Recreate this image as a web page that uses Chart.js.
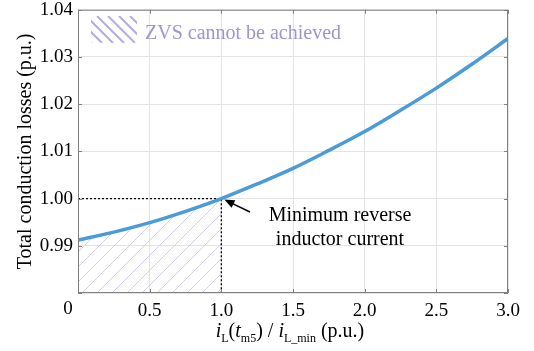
<!DOCTYPE html>
<html lang="en">
<head>
<meta charset="UTF-8">
<title>Conduction losses</title>
<script src="https://cdn.jsdelivr.net/npm/chart.js"></script>
<style>
  html, body { margin: 0; padding: 0; background: #fff; }
  #wrap { width: 534px; height: 351px; }
</style>
</head>
<body>
<div id="wrap"><canvas id="lossChart" width="534" height="351"></canvas></div>
<script>
// values
const xVals = [0, 0.25, 0.5, 0.75, 1.0, 1.25, 1.5, 1.75, 2.0, 2.25, 2.5, 2.75, 3.0];
const lossVals = [0.9912, 0.9929, 0.9949, 0.9973, 1.0000, 1.0031, 1.0064, 1.0102, 1.0142, 1.0187, 1.0234, 1.0285, 1.0339];
const minPoint = { x: 1.0, y: 1.00 };
const xTicks = [0, 0.5, 1.0, 1.5, 2.0, 2.5, 3.0];
const yTicks = [0.98, 0.99, 1.00, 1.01, 1.02, 1.03, 1.04];
const legendText = 'ZVS cannot be achieved';
const noteLines = ['Minimum reverse', 'inductor current'];

const SERIF = '"Liberation Serif", "Times New Roman", serif';

const curve = xVals.map((x, i) => ({ x: x, y: lossVals[i] }));
const zvsArea = curve.filter(p => p.x <= minPoint.x);
const guide = [{ x: xTicks[0], y: minPoint.y }, minPoint, { x: minPoint.x, y: yTicks[0] }];

// diagonal hatch tile "/", drawn pixel by pixel so it stays crisp
function hatchPattern(ctx) {
    const s = 15;
    const c = document.createElement('canvas');
    c.width = s; c.height = s;
    const g = c.getContext('2d');
    g.fillStyle = '#d2cfee';
    for (let i = 0; i < s; i++) g.fillRect(i, s - 1 - i, 1, 1);
    return ctx.createPattern(c, 'repeat');
}

const extras = {
    id: 'extras',
    afterDraw(chart) {
        const ctx = chart.ctx;
        const a = chart.chartArea;
        const xs = chart.scales.x, ys = chart.scales.y;
        ctx.save();

        // box + inward tick marks
        ctx.strokeStyle = '#7f7f7f';
        ctx.lineWidth = 1;
        ctx.strokeRect(a.left + 0.5, a.top + 0.5, a.right - a.left - 1, a.bottom - a.top - 1);
        ctx.beginPath();
        xTicks.forEach(v => {
            const px = Math.round(xs.getPixelForValue(v)) + 0.5;
            ctx.moveTo(px, a.bottom); ctx.lineTo(px, a.bottom - 4);
            ctx.moveTo(px, a.top); ctx.lineTo(px, a.top + 4);
        });
        yTicks.forEach(v => {
            const py = Math.round(ys.getPixelForValue(v)) + 0.5;
            ctx.moveTo(a.left, py); ctx.lineTo(a.left + 4, py);
            ctx.moveTo(a.right, py); ctx.lineTo(a.right - 4, py);
        });
        ctx.stroke();

        // "0" tick label sits left of the corner
        ctx.fillStyle = '#000';
        ctx.font = '19px ' + SERIF;
        ctx.textAlign = 'center';
        ctx.textBaseline = 'alphabetic';
        ctx.fillText('0', a.left - 10, 314);

        // legend
        const lx = 91, ly = 16, lw = 46, lh = 27;
        ctx.save();
        ctx.beginPath();
        ctx.rect(lx, ly, lw, lh);
        ctx.clip();
        ctx.strokeStyle = '#b4acdf';
        ctx.lineWidth = 2;
        ctx.beginPath();
        for (let k = -lh; k < lw + 4; k += 11) {
            ctx.moveTo(lx + k, ly);
            ctx.lineTo(lx + k + lh, ly + lh);
        }
        ctx.stroke();
        ctx.restore();
        ctx.fillStyle = '#9d95cf';
        ctx.font = '20px ' + SERIF;
        ctx.textAlign = 'left';
        ctx.fillText(legendText, 145, 39);

        // arrow to the minimum point
        const tipX = xs.getPixelForValue(minPoint.x) + 3;
        const tipY = ys.getPixelForValue(minPoint.y) + 1;
        const tailX = 250, tailY = 212;
        const ang = Math.atan2(tipY - tailY, tipX - tailX);
        ctx.strokeStyle = '#000';
        ctx.fillStyle = '#000';
        ctx.lineWidth = 1.5;
        ctx.beginPath();
        ctx.moveTo(tailX, tailY);
        ctx.lineTo(tipX - 8 * Math.cos(ang), tipY - 8 * Math.sin(ang));
        ctx.stroke();
        ctx.beginPath();
        ctx.moveTo(tipX, tipY);
        ctx.lineTo(tipX - 11 * Math.cos(ang - 0.4), tipY - 11 * Math.sin(ang - 0.4));
        ctx.lineTo(tipX - 11 * Math.cos(ang + 0.4), tipY - 11 * Math.sin(ang + 0.4));
        ctx.closePath();
        ctx.fill();

        ctx.font = '20px ' + SERIF;
        ctx.textAlign = 'center';
        ctx.fillText(noteLines[0], 340, 221);
        ctx.fillText(noteLines[1], 340, 245);

        // y axis title
        ctx.save();
        ctx.translate(26, (a.top + a.bottom) / 2);
        ctx.rotate(-Math.PI / 2);
        ctx.textAlign = 'center';
        ctx.textBaseline = 'middle';
        ctx.font = '20px ' + SERIF;
        ctx.fillText('Total conduction losses (p.u.)', 0, 0);
        ctx.restore();

        // x axis title with subscripts
        const parts = [
            ['i', 'italic 20px', 0], ['L', '12px', 5], ['(', '20px', 0], ['t', 'italic 20px', 0],
            ['m5', '12px', 5], [') / ', '20px', 0], ['i', 'italic 20px', 0], ['L_min', '12px', 5],
            [' (p.u.)', '20px', 0]
        ];
        let total = 0;
        parts.forEach(p => { ctx.font = p[1] + ' ' + SERIF; total += ctx.measureText(p[0]).width; });
        let cx = 290 - total / 2;
        ctx.textAlign = 'left';
        ctx.textBaseline = 'alphabetic';
        parts.forEach(p => {
            ctx.font = p[1] + ' ' + SERIF;
            ctx.fillText(p[0], cx, 337 + p[2]);
            cx += ctx.measureText(p[0]).width;
        });

        ctx.restore();
    }
};

const ctx = document.getElementById('lossChart').getContext('2d');
new Chart(ctx, {
    type: 'line',
    data: {
        datasets: [
            {
                data: curve,
                borderColor: '#4b9bd8',
                borderWidth: 3.5,
                pointRadius: 0,
                cubicInterpolationMode: 'monotone',
                fill: false,
                order: 0
            },
            {
                data: guide,
                borderColor: '#000',
                borderWidth: 1.3,
                borderDash: [2, 2],
                pointRadius: 0,
                tension: 0,
                fill: false,
                order: 1
            },
            {
                data: zvsArea,
                borderWidth: 0,
                borderColor: 'rgba(0,0,0,0)',
                backgroundColor: hatchPattern(ctx),
                pointRadius: 0,
                cubicInterpolationMode: 'monotone',
                fill: 'start',
                order: 2
            }
        ]
    },
    options: {
        responsive: false,
        animation: false,
        layout: { padding: { top: 5, right: 26, left: 0, bottom: 0 } },
        plugins: { legend: { display: false }, tooltip: { enabled: false } },
        scales: {
            x: {
                type: 'linear',
                min: 0, max: 3,
                afterBuildTicks: s => { s.ticks = xTicks.map(v => ({ value: v })); },
                afterFit: s => { s.height = 58; },
                grid: { color: '#e4e4e4', drawTicks: false },
                border: { display: false },
                ticks: {
                    padding: 7,
                    color: '#000',
                    font: { family: SERIF, size: 19 },
                    maxRotation: 0,
                    callback: v => v === 0 ? '' : v.toFixed(1)
                }
            },
            y: {
                type: 'linear',
                min: 0.98, max: 1.04,
                afterBuildTicks: s => { s.ticks = yTicks.map(v => ({ value: v })); },
                afterFit: s => { s.width = 78; },
                grid: { color: '#e4e4e4', drawTicks: false },
                border: { display: false },
                ticks: {
                    padding: 5,
                    color: '#000',
                    font: { family: SERIF, size: 19, lineHeight: 0.5 },
                    callback: v => v < 0.985 ? '' : v.toFixed(2)
                }
            }
        }
    },
    plugins: [extras]
});
</script>
</body>
</html>
